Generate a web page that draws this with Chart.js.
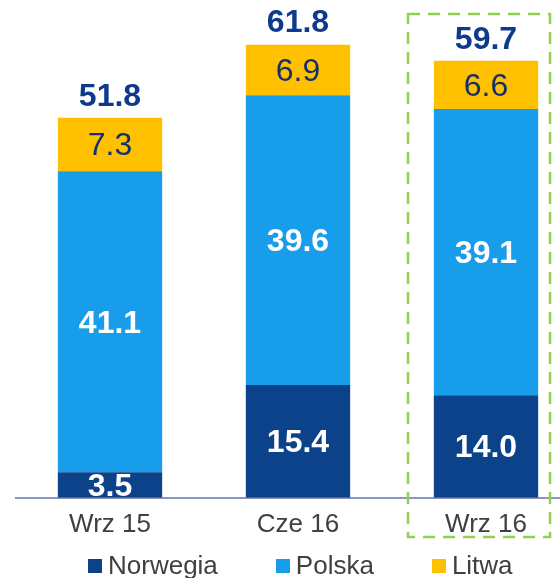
<!DOCTYPE html>
<html>
<head>
<meta charset="utf-8">
<script src="https://cdn.jsdelivr.net/npm/chart.js@4.4.1/dist/chart.umd.min.js"></script>
<style>
  html, body { margin: 0; padding: 0; background: #fff; overflow: hidden; }
  #wrap { position: relative; width: 580px; height: 578px; }
  #legend { position: absolute; left: 88px; top: 550px; display: flex; font: 26px "Liberation Sans", Arial, sans-serif; color: #404040; }
  #legend span { display: flex; align-items: center; margin-right: 58px; white-space: nowrap; }
  #legend i { display: inline-block; width: 14px; height: 14px; margin-right: 6px; }
</style>
</head>
<body>
<div id="wrap"><canvas id="chart"></canvas><div id="legend"></div></div>
<script>
// Values
var categories = ['Wrz 15', 'Cze 16', 'Wrz 16'];
var norwegia = [3.5, 15.4, 14.0];
var polska = [41.1, 39.6, 39.1];
var litwa = [7.3, 6.9, 6.6];
var totals = [51.8, 61.8, 59.7];

var FONT = '"Liberation Sans", Arial, sans-serif';

// Segment values and totals drawn on the bars
var barLabels = {
    id: 'barLabels',
    afterDatasetsDraw: function(chart) {
        var ctx = chart.ctx;
        var area = chart.chartArea;
        ctx.save();
        ctx.beginPath();
        ctx.rect(0, 0, chart.width, area.bottom - 1);
        ctx.clip();
        ctx.textAlign = 'center';
        ctx.textBaseline = 'middle';
        chart.data.datasets.forEach(function(ds, i) {
            var meta = chart.getDatasetMeta(i);
            meta.data.forEach(function(bar, j) {
                var mid = (bar.y + bar.base) / 2;
                ctx.font = (i === 2 ? 'normal ' : 'bold ') + '32px ' + FONT;
                ctx.fillStyle = i === 2 ? '#14306a' : '#ffffff';
                ctx.fillText(ds.data[j].toFixed(1), bar.x, mid + 2);
            });
        });
        var top = chart.getDatasetMeta(2);
        ctx.font = 'bold 32px ' + FONT;
        ctx.fillStyle = '#0d3a8c';
        top.data.forEach(function(bar, j) {
            ctx.fillText(totals[j].toFixed(1), bar.x, bar.y - 21);
        });
        ctx.restore();
    }
};

// Dashed green frame around the last category
var highlightBox = {
    id: 'highlightBox',
    afterDraw: function(chart) {
        var ctx = chart.ctx;
        var x = chart.scales.x.getPixelForValue(categories.length - 1);
        ctx.save();
        ctx.strokeStyle = '#92d050';
        ctx.lineWidth = 2.5;
        ctx.setLineDash([12, 8]);
        ctx.strokeRect(x - 78, 14, 142, 523);
        ctx.restore();
    }
};

var chart = new Chart(document.getElementById('chart'), {
    type: 'bar',
    data: {
        labels: categories,
        datasets: [
            { label: 'Norwegia', data: norwegia, backgroundColor: '#0b428a' },
            { label: 'Polska', data: polska, backgroundColor: '#179dea' },
            { label: 'Litwa', data: litwa, backgroundColor: '#ffc000' }
        ]
    },
    options: {
        responsive: true,
        maintainAspectRatio: false,
        animation: false,
        layout: { padding: { left: 16, top: 0, right: 0, bottom: 35 } },
        datasets: {
            bar: { categoryPercentage: 1, barPercentage: 0.555 }
        },
        scales: {
            x: {
                stacked: true,
                grid: { display: false },
                border: { color: '#8c96c0', width: 2 },
                ticks: { color: '#404040', font: { family: FONT, size: 26 }, padding: 3 }
            },
            y: {
                stacked: true,
                display: false,
                min: 0,
                max: 68
            }
        },
        plugins: {
            legend: { display: false },
            tooltip: { enabled: false }
        }
    },
    plugins: [barLabels, highlightBox]
});

// Legend built from the datasets
var legend = document.getElementById('legend');
chart.data.datasets.forEach(function(ds) {
    var item = document.createElement('span');
    var box = document.createElement('i');
    box.style.background = ds.backgroundColor;
    item.appendChild(box);
    item.appendChild(document.createTextNode(ds.label));
    legend.appendChild(item);
});
</script>
</body>
</html>
